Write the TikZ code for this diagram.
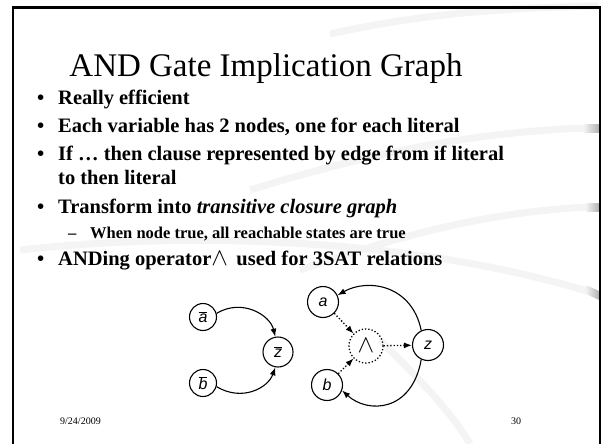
\documentclass[tikz,border=0pt]{standalone}
\usepackage{fontspec}
\setmainfont{Liberation Serif}
\newfontfamily\nodefont{Liberation Sans}
\usetikzlibrary{arrows.meta}
\definecolor{swoosh}{gray}{0.955}
\newcommand{\ovl}[1]{$\overline{\hbox{\nodefont\itshape #1}}$}
\begin{document}
\begin{tikzpicture}[x=1pt,y=-1pt,
  lit/.style={circle,draw,line width=1.1pt,minimum size=30pt,inner sep=0pt,font=\nodefont\itshape\fontsize{16}{16}\selectfont},
  andnode/.style={circle,draw,dotted,line width=1.3pt,minimum size=34pt,inner sep=0pt},
  edge/.style={line width=1.1pt,-{Latex[length=8pt,width=6pt]}},
  dedge/.style={line width=1.3pt,dotted,-{Latex[length=8pt,width=6pt]}},
  bullet/.style={anchor=base west,inner sep=0pt,font=\bfseries\fontsize{20.5}{23}\selectfont},
  subbullet/.style={anchor=base west,inner sep=0pt,font=\bfseries\fontsize{16.5}{19}\selectfont},
  foot/.style={anchor=base west,inner sep=0pt,font=\fontsize{10}{12}\selectfont}]
\useasboundingbox (0,0) rectangle (602,444);
\fill[white] (0,0) rectangle (602,444);
% background swooshes
\draw[swoosh,line width=7pt] (330,34) .. controls (420,14) and (500,8) .. (598,6);
\draw[swoosh,line width=7pt] (250,190) .. controls (380,150) and (480,132) .. (585,128);
\draw[swoosh,line width=7pt] (300,270) .. controls (420,228) and (500,212) .. (587,207);
\draw[swoosh,line width=7pt] (20,250) .. controls (200,230) and (420,240) .. (590,292);
\draw[swoosh,line width=7pt] (380,340) .. controls (420,380) and (450,410) .. (470,444);
\shade[left color=gray!10,right color=gray!60] (584,124) rectangle (599,132);
\shade[left color=gray!10,right color=gray!60] (586,203) rectangle (599,211);
\shade[left color=gray!10,right color=gray!60] (586,285) -- (599,291) -- (599,300) -- (586,294) -- cycle;
% frame
\draw[line width=2.6pt] (13,448) -- (13,7.5) -- (600,7.5) -- (600,448);
% title
\node[inner sep=0pt,anchor=base,font=\fontsize{33}{36}\selectfont] (title) at (266,76) {AND Gate Implication Graph};
% bullets
\node[bullet] (b1d) at (37,104) {•};
\node[bullet] (b1) at (58,104) {Really efficient};
\node[bullet] (b2d) at (37,132) {•};
\node[bullet] (b2) at (58,132) {Each variable has 2 nodes, one for each literal};
\node[bullet] (b3d) at (37,160) {•};
\node[bullet] (b3) at (58,160) {If … then clause represented by edge from if literal};
\node[bullet] (b3b) at (58,184) {to then literal};
\node[bullet] (b4d) at (37,213) {•};
\node[bullet] (b4) at (58,213) {Transform into \textit{transitive closure graph}};
\node[subbullet] (s1d) at (68,238) {–};
\node[subbullet] (s1) at (90,238) {When node true, all reachable states are true};
\node[bullet] (b5d) at (37,265) {•};
\node[bullet] (b5) at (58,265) {ANDing operator{\fontsize{23}{23}\selectfont$\wedge$}\, used for 3SAT relations};
% graph
\node[lit,minimum size=27pt] (na) at (203,317) {\ovl{a}};
\node[lit,minimum size=27pt] (nb) at (203,383) {\ovl{b}};
\node[lit] (nz) at (278,352) {\ovl{z}};
\node[lit,minimum size=31pt] (a) at (323,302) {a};
\node[lit,minimum size=31pt] (b) at (327,385) {b};
\node[andnode] (and) at (366,346) {\fontsize{24}{24}\selectfont$\wedge$};
\node[lit,minimum size=31pt] (z) at (428,345) {z};
\draw[edge] (na.15) .. controls (242,298) and (270,315) .. (nz.100);
\draw[edge] (nb.-15) .. controls (242,402) and (268,388) .. (nz.-100);
\draw[dedge] (a.-45) -- (and.135);
\draw[dedge] (b.45) -- (and.-135);
\draw[dedge] (and) -- (z);
\draw[edge] (z.115) .. controls (412,285) and (368,278) .. (a.25);
\draw[edge] (z.-115) .. controls (412,412) and (368,414) .. (b.-20);
% footer
\node[foot] (date) at (60,424) {9/24/2009};
\node[foot] (page) at (511,424) {30};
\end{tikzpicture}
\end{document}
